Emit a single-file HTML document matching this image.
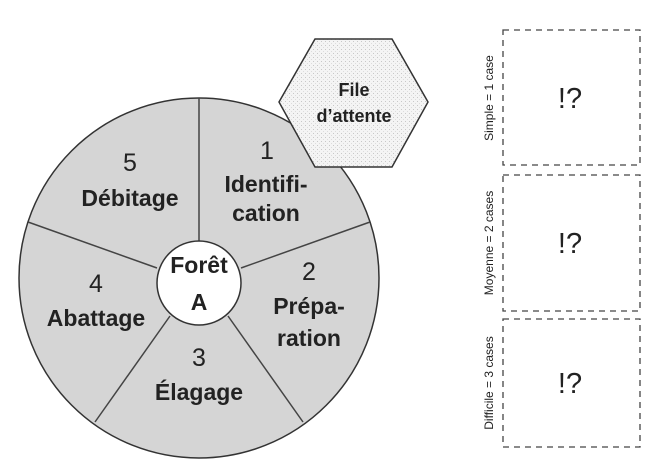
<!DOCTYPE html>
<html><head><meta charset="utf-8"><style>
html,body{margin:0;padding:0;background:#fff;}
svg{display:block;}
</style></head><body>
<svg width="656" height="474" viewBox="0 0 656 474" xmlns="http://www.w3.org/2000/svg" font-family="Liberation Sans, sans-serif">
<defs>
<pattern id="dots" width="4" height="4" patternUnits="userSpaceOnUse">
<rect width="4" height="4" fill="#f4f4f4"/>
<rect x="1" y="1" width="1" height="1" fill="#c8c8c8"/>
<rect x="3" y="3" width="1" height="1" fill="#dcdcdc"/>
</pattern>
</defs>
<circle cx="199" cy="278" r="180" fill="#d5d5d5" stroke="#333" stroke-width="1.5"/>
<polygon points="315,39 392,39 428,102 392,167 315,167 279,102" fill="url(#dots)" stroke="#333" stroke-width="1.5"/>
<g stroke="#444" stroke-width="1.5">
<line x1="199" y1="98" x2="199" y2="241"/>
<line x1="370" y1="222" x2="241" y2="268"/>
<line x1="303" y1="422" x2="228" y2="316"/>
<line x1="95" y1="422" x2="170" y2="316"/>
<line x1="28" y1="222" x2="157" y2="268"/>
</g>
<circle cx="199" cy="283" r="42" fill="#fff" stroke="#333" stroke-width="1.5"/>
<g fill="#222" text-anchor="middle" font-size="25">
<text x="267" y="159">1</text>
<text x="130" y="171">5</text>
<text x="309" y="280">2</text>
<text x="96" y="292">4</text>
<text x="199" y="366">3</text>
</g>
<g fill="#222" text-anchor="middle" font-size="23" font-weight="bold">
<text x="266" y="192">Identifi-</text>
<text x="266" y="221">cation</text>
<text x="130" y="206">Débitage</text>
<text x="309" y="314">Prépa-</text>
<text x="309" y="346">ration</text>
<text x="96" y="326">Abattage</text>
<text x="199" y="400">Élagage</text>
<text x="199" y="273">Forêt</text>
<text x="199" y="310">A</text>
</g>
<g fill="#222" text-anchor="middle" font-size="18" font-weight="bold">
<text x="354" y="96">File</text>
<text x="354" y="122">d’attente</text>
</g>
<g fill="none" stroke="#444" stroke-width="1.3" stroke-dasharray="6,5">
<rect x="503" y="30" width="137" height="135"/>
<rect x="503" y="175" width="137" height="136"/>
<rect x="503" y="319" width="137" height="128"/>
</g>
<g fill="#222" text-anchor="middle" font-size="29">
<text x="570" y="108">!?</text>
<text x="570" y="253">!?</text>
<text x="570" y="393">!?</text>
</g>
<g fill="#222" text-anchor="middle" font-size="12">
<text transform="translate(493,98) rotate(-90)">Simple = 1 case</text>
<text transform="translate(493,243) rotate(-90)">Moyenne = 2 cases</text>
<text transform="translate(493,383) rotate(-90)">Difficile = 3 cases</text>
</g>
</svg>
</body></html>
